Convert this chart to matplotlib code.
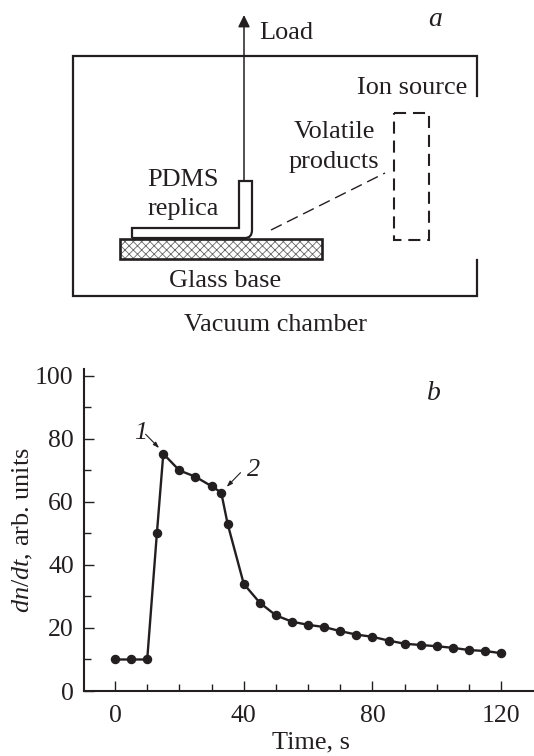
import matplotlib
matplotlib.use("Agg")
import matplotlib.pyplot as plt
from matplotlib.patches import PathPatch, Rectangle
from matplotlib.path import Path

time_s = [0, 5, 10, 13, 15, 20, 25, 30, 33, 35, 40, 45, 50, 55, 60, 65, 70, 75, 80,
          85, 90, 95, 100, 105, 110, 115, 120]
dn_dt = [10, 10, 10, 50, 75.3, 70, 68, 65, 63, 53, 34, 28, 24, 22, 21, 20.3, 19, 17.9, 17.2,
         16, 15, 14.6, 14.2, 13.7, 13, 12.7, 12]
x_major = [0, 40, 80, 120]
x_minor = [10, 20, 30, 50, 60, 70, 90, 100, 110]
y_major = [0, 20, 40, 60, 80, 100]
y_minor = [10, 30, 50, 70, 90]

plt.rcParams["font.family"] = ["Liberation Serif", "DejaVu Serif"]
plt.rcParams["mathtext.fontset"] = "custom"
plt.rcParams["mathtext.rm"] = "Liberation Serif"
plt.rcParams["mathtext.it"] = "Liberation Serif:italic"
plt.rcParams["hatch.linewidth"] = 0.6

W, H = 534, 756
ink = "#231f20"
fs = 18.9
fig = plt.figure(figsize=(W / 100, H / 100), dpi=100)

# schematic, drawn in pixel coordinates
sk = fig.add_axes([0, 0, 1, 1])
sk.set_xlim(0, W)
sk.set_ylim(H, 0)
sk.axis("off")

sk.plot([477, 477, 73, 73, 477, 477], [96, 56, 56, 296, 296, 260], color=ink, lw=1.6,
        solid_joinstyle="miter")
sk.add_patch(Rectangle((120, 239), 202, 20, facecolor="white", edgecolor="#666666",
                       hatch="xxxx", lw=0))
sk.add_patch(Rectangle((120, 239), 202, 20, fill=False, edgecolor=ink, lw=1.9))
verts = [(132, 238), (132, 228), (239, 228), (239, 181), (252, 181), (252, 230),
         (252, 238), (245, 238), (132, 238)]
codes = [Path.MOVETO, Path.LINETO, Path.LINETO, Path.LINETO, Path.LINETO, Path.LINETO,
         Path.CURVE3, Path.CURVE3, Path.LINETO]
sk.add_patch(PathPatch(Path(verts, codes), facecolor="white", edgecolor=ink, lw=1.6))
sk.annotate("", xy=(244, 15), xytext=(244, 181),
            arrowprops=dict(arrowstyle="-|>,head_width=0.27,head_length=0.55", color=ink, lw=1.1,
                            shrinkA=0, shrinkB=0, mutation_scale=13))
sk.add_patch(Rectangle((394, 113), 35, 127, fill=False, edgecolor=ink, lw=1.5,
                       linestyle=(0, (5.8, 3.3))))
sk.plot([271, 385], [230, 173], color=ink, lw=1.0, linestyle=(0, (8.6, 4.3)))

sk.text(259, 39, "Load", fontsize=fs, color=ink, ha="left", va="baseline")
sk.text(435, 26, "a", fontsize=fs + 1, style="italic", color=ink, ha="center", va="baseline")
sk.text(412, 94, "Ion source", fontsize=fs, color=ink, ha="center", va="baseline")
sk.text(334, 138, "Volatile", fontsize=fs, color=ink, ha="center", va="baseline")
sk.text(334, 168, "products", fontsize=fs, color=ink, ha="center", va="baseline")
sk.text(183, 186, "PDMS", fontsize=fs, color=ink, ha="center", va="baseline")
sk.text(183, 215, "replica", fontsize=fs, color=ink, ha="center", va="baseline")
sk.text(225, 287, "Glass base", fontsize=fs, color=ink, ha="center", va="baseline")
sk.text(276, 331, "Vacuum chamber", fontsize=fs, color=ink, ha="center", va="baseline")

# measured curve
left, right = 83.5, 534
bottom, top = 691, 369
ax = fig.add_axes([left / W, 1 - bottom / H, (right - left) / W, (bottom - top) / H])
ax.patch.set_alpha(0)
ax.set_xlim(-9.8, 130.2)
ax.set_ylim(0, 102.2)
ax.plot(time_s, dn_dt, color=ink, lw=1.7, marker="o", ms=5.8, mfc=ink, mec=ink, clip_on=False)

ax.spines["top"].set_visible(False)
ax.spines["right"].set_visible(False)
ax.spines["left"].set_linewidth(1.5)
ax.spines["bottom"].set_linewidth(1.5)
ax.spines["left"].set_color(ink)
ax.spines["bottom"].set_color(ink)
ax.set_xticks(x_major)
ax.set_xticks(x_minor, minor=True)
ax.set_yticks(y_major)
ax.set_yticks(y_minor, minor=True)
ax.tick_params(axis="both", which="major", direction="in", length=7.5, width=1, color=ink,
               labelcolor=ink, labelsize=18.5)
ax.tick_params(axis="both", which="minor", direction="in", length=5, width=1, color=ink)
ax.tick_params(axis="x", which="major", pad=10)
ax.tick_params(axis="y", which="major", pad=7)

ax.set_xlabel("Time, s", fontsize=fs, color=ink, labelpad=3, x=0.506)
ax.set_ylabel("$dn/dt$, arb. units", fontsize=fs, color=ink, labelpad=0)

ax.text(7.8, 82, "1", fontsize=fs, style="italic", color=ink, ha="center", va="center")
ax.text(43, 70, "2", fontsize=fs, style="italic", color=ink, ha="center", va="center")
ax.text(99, 94.5, "b", fontsize=fs + 1, style="italic", color=ink, ha="center", va="center")
arrow = dict(arrowstyle="-|>,head_width=0.12,head_length=0.35", color=ink, lw=0.8,
             shrinkA=0, shrinkB=0)
ax.annotate("", xy=(13.7, 77.1), xytext=(9.5, 81.5), arrowprops=arrow)
ax.annotate("", xy=(34.7, 64.8), xytext=(39, 69.3), arrowprops=arrow)

fig.savefig("out.png", dpi=100)
